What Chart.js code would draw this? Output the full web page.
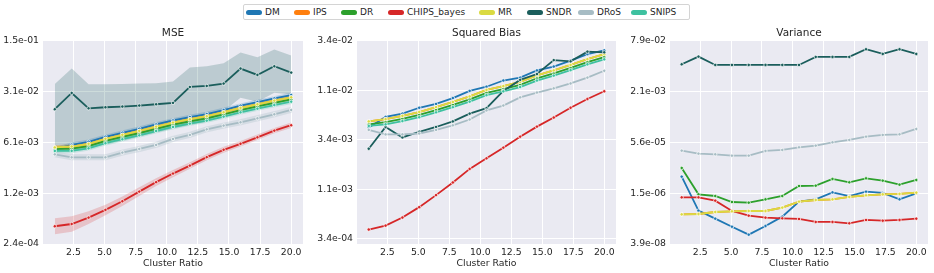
<!DOCTYPE html>
<html>
<head>
<meta charset="utf-8">
<script src="https://cdn.jsdelivr.net/npm/chart.js@4.4.0/dist/chart.umd.min.js"></script>
<style>
  body { margin: 0; background: #fff; width: 934px; height: 273px; position: relative; overflow: hidden; font-family: "DejaVu Sans", sans-serif; }
  canvas { position: absolute; top: 22px; }
  #legend { position: absolute; left: 243px; top: 4px; width: 447px; height: 16px; box-sizing: border-box; border: 1px solid #d4d4d4; border-radius: 2px; background: #fff; }
  .item { position: absolute; top: 0; height: 14px; display: flex; align-items: center; font-size: 9px; color: #262626; white-space: nowrap; }
  .swatch { width: 16px; height: 5px; border-radius: 3px; margin-right: 3px; }
</style>
</head>
<body>
<div id="legend"></div>
<canvas id="mseChart" width="310" height="251" style="left:0px"></canvas>
<canvas id="biasChart" width="310" height="251" style="left:314px"></canvas>
<canvas id="varChart" width="307" height="251" style="left:627px"></canvas>
<script>
// x positions (cluster ratio) and axis ticks
const xValues = [1.0, 2.357, 3.714, 5.071, 6.429, 7.786, 9.143, 10.5, 11.857, 13.214, 14.571, 15.929, 17.286, 18.643, 20.0];
const xTicks = [2.5, 5.0, 7.5, 10.0, 12.5, 15.0, 17.5, 20.0];

const seriesNames = ["DM", "IPS", "DR", "CHIPS_bayes", "MR", "SNDR", "DRoS", "SNIPS"];
const seriesColors = ["#1f77b4", "#ff7f0e", "#2ca02c", "#d62728", "#dada42", "#1b5e5c", "#a7bcc4", "#3ec1a0"];

// y tick labels, bottom to top
const mseTickLabels = ["2.4e-04", "1.2e-03", "6.1e-03", "3.1e-02", "1.5e-01"];
const biasTickLabels = ["3.4e-04", "1.1e-03", "3.4e-03", "1.1e-02", "3.4e-02"];
const varTickLabels = ["3.9e-08", "1.5e-06", "5.6e-05", "2.1e-03", "7.9e-02"];

// MSE
const mseDM = [4.8e-3, 5.55e-3, 6.1e-3, 7.14e-3, 8.11e-3, 9.21e-3, 1.055e-2, 1.198e-2, 1.334e-2, 1.467e-2, 1.666e-2, 1.91e-2, 2.147e-2, 2.406e-2, 2.68e-2];
const mseIPS = [5.1e-3, 5.25e-3, 5.7e-3, 6.7e-3, 7.6e-3, 8.6e-3, 9.85e-3, 1.12e-2, 1.245e-2, 1.37e-2, 1.555e-2, 1.78e-2, 2.0e-2, 2.24e-2, 2.49e-2];
const mseDR = [4.86e-3, 4.91e-3, 5.33e-3, 6.26e-3, 7.1e-3, 8.04e-3, 9.2e-3, 1.047e-2, 1.164e-2, 1.28e-2, 1.454e-2, 1.664e-2, 1.87e-2, 2.094e-2, 2.33e-2];
const mseCHIPS = [4.21e-4, 4.52e-4, 5.53e-4, 7.06e-4, 9.3e-4, 1.26e-3, 1.70e-3, 2.23e-3, 2.87e-3, 3.75e-3, 4.73e-3, 5.72e-3, 7.03e-3, 8.68e-3, 1.03e-2];
const mseMR = [5.1e-3, 5.25e-3, 5.7e-3, 6.7e-3, 7.6e-3, 8.6e-3, 9.85e-3, 1.12e-2, 1.245e-2, 1.37e-2, 1.555e-2, 1.78e-2, 2.0e-2, 2.24e-2, 2.49e-2];
const mseSNDR = [1.71e-2, 2.86e-2, 1.76e-2, 1.82e-2, 1.86e-2, 1.92e-2, 2.0e-2, 2.09e-2, 3.46e-2, 3.57e-2, 3.85e-2, 6.19e-2, 5.06e-2, 6.66e-2, 5.45e-2];
const mseDRoS = [4.1e-3, 3.73e-3, 3.73e-3, 3.73e-3, 4.33e-3, 4.86e-3, 5.52e-3, 6.67e-3, 7.57e-3, 9.06e-3, 1.018e-2, 1.131e-2, 1.284e-2, 1.457e-2, 1.67e-2];
const mseSNIPS = [4.56e-3, 4.57e-3, 4.96e-3, 5.83e-3, 6.61e-3, 7.48e-3, 8.57e-3, 9.74e-3, 1.083e-2, 1.19e-2, 1.353e-2, 1.55e-2, 1.74e-2, 1.95e-2, 2.17e-2];
// MSE confidence bands
const mseSNDRLow = [4.5e-3, 4.6e-3, 5.0e-3, 5.6e-3, 6.3e-3, 7.2e-3, 8.2e-3, 9.3e-3, 1.04e-2, 1.15e-2, 1.6e-2, 2.46e-2, 2.17e-2, 2.88e-2, 2.73e-2];
const mseSNDRHigh = [3.81e-2, 6.19e-2, 3.77e-2, 3.77e-2, 3.81e-2, 3.85e-2, 3.89e-2, 4.1e-2, 6.39e-2, 6.66e-2, 7.32e-2, 1.03e-1, 8.86e-2, 1.13e-1, 9.34e-2];
const mseCHIPSLow = [3.26e-4, 3.53e-4, 4.53e-4, 5.98e-4, 8.02e-4, 1.096e-3, 1.504e-3, 1.99e-3, 2.59e-3, 3.41e-3, 4.3e-3, 5.25e-3, 6.45e-3, 7.96e-3, 9.45e-3];
const mseCHIPSHigh = [5.43e-4, 5.79e-4, 6.75e-4, 8.33e-4, 1.079e-3, 1.449e-3, 1.921e-3, 2.5e-3, 3.19e-3, 4.13e-3, 5.2e-3, 6.23e-3, 7.66e-3, 9.46e-3, 1.123e-2];

// Squared Bias
const biasDM = [4.5e-3, 5.77e-3, 6.22e-3, 7.13e-3, 7.8e-3, 8.94e-3, 1.055e-2, 1.163e-2, 1.344e-2, 1.438e-2, 1.70e-2, 1.86e-2, 2.13e-2, 2.48e-2, 2.71e-2];
const biasIPS = [5.19e-3, 5.47e-3, 5.9e-3, 6.46e-3, 7.24e-3, 8.16e-3, 9.28e-3, 1.079e-2, 1.18e-2, 1.303e-2, 1.516e-2, 1.70e-2, 1.93e-2, 2.21e-2, 2.48e-2];
const biasDR = [4.85e-3, 5.11e-3, 5.51e-3, 6.03e-3, 6.76e-3, 7.62e-3, 8.67e-3, 1.008e-2, 1.102e-2, 1.217e-2, 1.416e-2, 1.588e-2, 1.80e-2, 2.06e-2, 2.32e-2];
const biasCHIPS = [4.2e-4, 4.6e-4, 5.55e-4, 7.07e-4, 9.35e-4, 1.255e-3, 1.72e-3, 2.2e-3, 2.82e-3, 3.64e-3, 4.6e-3, 5.68e-3, 7.13e-3, 8.74e-3, 1.047e-2];
const biasMR = [5.19e-3, 5.47e-3, 5.9e-3, 6.46e-3, 7.24e-3, 8.16e-3, 9.28e-3, 1.079e-2, 1.18e-2, 1.303e-2, 1.516e-2, 1.70e-2, 1.93e-2, 2.21e-2, 2.48e-2];
const biasSNDR = [2.75e-3, 4.56e-3, 3.58e-3, 4.08e-3, 4.56e-3, 5.19e-3, 6.22e-3, 7.07e-3, 1.055e-2, 1.364e-2, 1.562e-2, 2.16e-2, 2.10e-2, 2.63e-2, 2.59e-2];
const biasDRoS = [4.26e-3, 3.84e-3, 3.84e-3, 3.92e-3, 4.26e-3, 4.74e-3, 5.43e-3, 6.71e-3, 7.51e-3, 9.08e-3, 1.016e-2, 1.121e-2, 1.255e-2, 1.438e-2, 1.685e-2];
const biasSNIPS = [4.67e-3, 4.85e-3, 5.23e-3, 5.72e-3, 6.41e-3, 7.23e-3, 8.22e-3, 9.56e-3, 1.045e-2, 1.154e-2, 1.343e-2, 1.506e-2, 1.71e-2, 1.96e-2, 2.2e-2];

// Variance
const varDM = [4.78e-6, 4.22e-7, 2.38e-7, 1.34e-7, 7.59e-8, 1.41e-7, 2.75e-7, 8.02e-7, 9.47e-7, 1.56e-6, 1.2e-6, 1.64e-6, 1.49e-6, 9.47e-7, 1.45e-6];
const varIPS = [3.24e-7, 3.32e-7, 3.83e-7, 4.02e-7, 4.12e-7, 4.12e-7, 5.23e-7, 8.02e-7, 9.03e-7, 9.47e-7, 1.12e-6, 1.26e-6, 1.35e-6, 1.39e-6, 1.52e-6];
const varDR = [8.88e-6, 1.35e-6, 1.2e-6, 7.83e-7, 7.46e-7, 9.47e-7, 1.2e-6, 2.45e-6, 2.51e-6, 4.05e-6, 3.19e-6, 4.24e-6, 3.59e-6, 2.7e-6, 3.77e-6];
const varCHIPS = [1.09e-6, 1.09e-6, 8.61e-7, 4.12e-7, 2.95e-7, 2.56e-7, 2.44e-7, 2.33e-7, 1.88e-7, 1.88e-7, 1.71e-7, 2.17e-7, 2.06e-7, 2.17e-7, 2.38e-7];
const varMR = [3.24e-7, 3.32e-7, 3.83e-7, 4.02e-7, 4.12e-7, 4.12e-7, 5.23e-7, 8.02e-7, 9.03e-7, 9.47e-7, 1.12e-6, 1.26e-6, 1.35e-6, 1.39e-6, 1.52e-6];
const varSNDR = [1.458e-2, 2.52e-2, 1.39e-2, 1.39e-2, 1.39e-2, 1.39e-2, 1.39e-2, 1.39e-2, 2.46e-2, 2.46e-2, 2.46e-2, 4.26e-2, 3.05e-2, 4.26e-2, 3.05e-2];
const varDRoS = [3.06e-5, 2.47e-5, 2.36e-5, 2.14e-5, 2.14e-5, 2.99e-5, 3.21e-5, 3.88e-5, 4.38e-5, 5.55e-5, 6.56e-5, 8.32e-5, 9.38e-5, 9.83e-5, 1.44e-4];
const varSNIPS = [null, null, null, null, null, null, null, null, null, null, null, null, null, null, null];

const FONT = "'DejaVu Sans', sans-serif";
const TEXT = "#262626";

buildLegend();

makePanel("mseChart", "MSE", mseTickLabels, 7,
  [mseDM, mseIPS, mseDR, mseCHIPS, mseMR, mseSNDR, mseDRoS, mseSNIPS],
  [{ series: 5, low: mseSNDRLow, high: mseSNDRHigh }, { series: 3, low: mseCHIPSLow, high: mseCHIPSHigh }],
  true);
makePanel("biasChart", "Squared Bias", biasTickLabels, 8,
  [biasDM, biasIPS, biasDR, biasCHIPS, biasMR, biasSNDR, biasDRoS, biasSNIPS], [], false);
makePanel("varChart", "Variance", varTickLabels, 6,
  [varDM, varIPS, varDR, varCHIPS, varMR, varSNDR, varDRoS, varSNIPS], [], false);

function buildLegend() {
  const lefts = [2, 50, 97, 144, 235, 283, 334, 387];
  const box = document.getElementById("legend");
  seriesNames.forEach((name, i) => {
    const item = document.createElement("div");
    item.className = "item";
    item.style.left = lefts[i] + "px";
    item.innerHTML = '<span class="swatch" style="background:' + seriesColors[i] + '"></span>' + name;
    box.appendChild(item);
  });
}

function withAlpha(hex, a) {
  const n = parseInt(hex.slice(1), 16);
  return "rgba(" + (n >> 16) + "," + ((n >> 8) & 255) + "," + (n & 255) + "," + a + ")";
}

function toPoints(values) {
  return values.map((v, i) => ({ x: xValues[i], y: v }));
}

function makePanel(canvasId, title, tickLabels, rightPad, seriesData, bands, halo) {
  const lo = parseFloat(tickLabels[0]);
  const hi = parseFloat(tickLabels[tickLabels.length - 1]);
  const steps = tickLabels.length - 1;
  const tickValues = tickLabels.map((_, k) => lo * Math.pow(hi / lo, k / steps));

  const datasets = [];

  // shaded bands under everything
  bands.forEach((b) => {
    const color = seriesColors[b.series];
    const lowIndex = datasets.length;
    datasets.push({ data: toPoints(b.low), borderWidth: 0, pointRadius: 0, fill: false, order: 100 });
    datasets.push({ data: toPoints(b.high), borderWidth: 0, pointRadius: 0, fill: lowIndex,
      backgroundColor: withAlpha(color, b.series === 5 ? 0.22 : 0.2), order: 100 });
  });

  seriesData.forEach((values, i) => {
    const color = seriesColors[i];
    if (halo && i !== 3 && i !== 5) {
      datasets.push({ data: toPoints(values), borderColor: withAlpha(color, i === 6 ? 0.3 : 0.22),
        borderWidth: i === 6 ? 6 : 4.5, pointRadius: 0, fill: false, order: 60 });
    }
    datasets.push({
      label: seriesNames[i],
      data: toPoints(values),
      borderColor: color,
      borderWidth: 1.8,
      pointRadius: 1.7,
      pointBackgroundColor: color,
      pointBorderColor: "#ffffff",
      pointBorderWidth: 0.7,
      fill: false,
      order: 20 - i,
    });
  });

  new Chart(document.getElementById(canvasId), {
    type: "line",
    data: { datasets: datasets },
    options: {
      responsive: false,
      animation: false,
      events: [],
      devicePixelRatio: 1,
      layout: { padding: { left: 0, right: rightPad, top: 0, bottom: 0 } },
      plugins: {
        legend: { display: false },
        tooltip: { enabled: false },
        title: {
          display: true,
          text: title,
          fullSize: false,
          color: TEXT,
          font: { family: FONT, size: 10.5, weight: "normal" },
          padding: { top: 5, bottom: 1 },
        },
      },
      scales: {
        x: {
          type: "linear",
          min: 0.05,
          max: 20.95,
          afterBuildTicks: (scale) => { scale.ticks = xTicks.map((v) => ({ value: v })); },
          afterFit: (scale) => { scale.height = 29; },
          ticks: {
            callback: (v) => v.toFixed(1),
            color: TEXT,
            font: { family: FONT, size: 9.3 },
            padding: 3,
            maxRotation: 0,
            autoSkip: false,
          },
          grid: { color: "#ffffff", lineWidth: 1, drawTicks: false },
          border: { display: false },
          title: {
            display: true,
            text: "Cluster Ratio",
            color: TEXT,
            font: { family: FONT, size: 9.3 },
            padding: { top: 0, bottom: 4 },
          },
        },
        y: {
          type: "logarithmic",
          min: lo,
          max: hi,
          afterBuildTicks: (scale) => { scale.ticks = tickValues.map((v) => ({ value: v })); },
          afterFit: (scale) => { scale.width = 43; },
          ticks: {
            callback: (v, index) => tickLabels[index],
            color: TEXT,
            font: { family: FONT, size: 9.3 },
            padding: 4,
            autoSkip: false,
          },
          grid: { color: "#ffffff", lineWidth: 1, drawTicks: false },
          border: { display: false },
        },
      },
    },
    plugins: [{
      id: "plotBackground",
      beforeDraw(chart) {
        const { ctx, chartArea } = chart;
        ctx.save();
        ctx.fillStyle = "#eaeaf2";
        ctx.fillRect(chartArea.left, chartArea.top, chartArea.width, chartArea.height);
        ctx.restore();
      },
    }],
  });
}
</script>
</body>
</html>
